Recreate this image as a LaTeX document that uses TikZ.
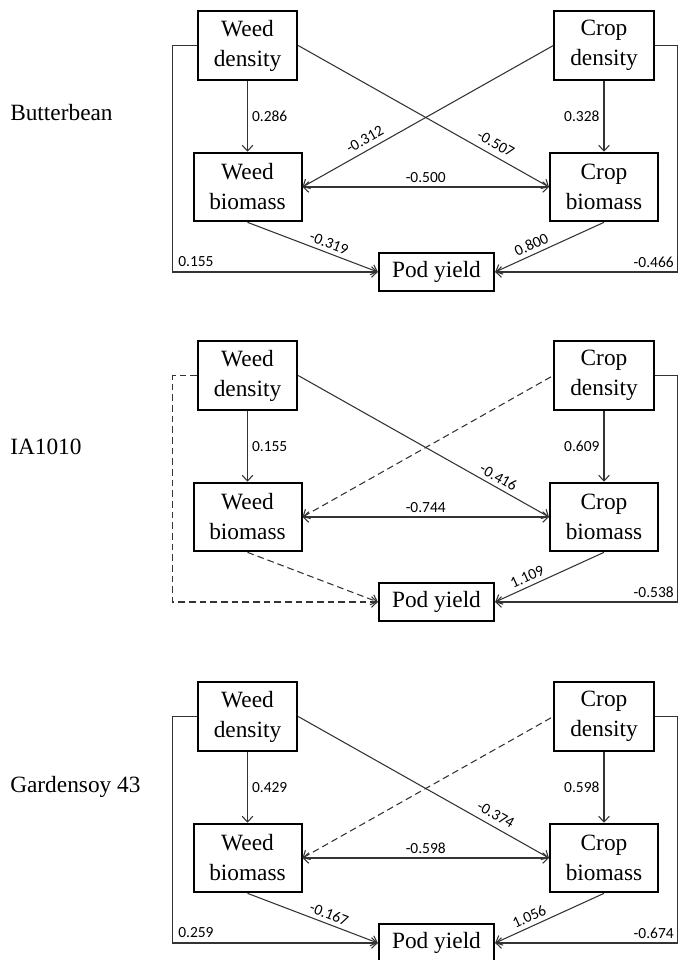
\documentclass[tikz,border=0pt]{standalone}
\usepackage{fontspec}
\setmainfont{Liberation Serif}
\newfontfamily\numfont{Carlito}
\usetikzlibrary{arrows.meta}
\tikzset{
  boxbase/.style={draw=black, line width=1.5pt, align=center, inner sep=0pt,
    font=\fontsize{17.5}{22.5}\selectfont},
  dbox/.style={boxbase, minimum width=74.5pt, minimum height=52pt},
  bbox/.style={boxbase, minimum width=81pt, minimum height=51.5pt},
  pbox/.style={boxbase, minimum width=86.5pt, minimum height=29pt},
  ttl/.style={anchor=west, inner sep=0pt, font=\fontsize{17.5}{20}\selectfont},
  num/.style={font=\numfont\fontsize{11.6}{13}\selectfont, inner sep=3pt},
  conn/.style={draw=black!80, line width=0.8pt},
  arr/.style={conn, -{Straight Barb[length=4.2pt,width=8pt]}},
  arrback/.style={conn, {Straight Barb[length=4.2pt,width=8pt]}-},
  dbl/.style={conn, {Straight Barb[length=4.2pt,width=8pt]}-{Straight Barb[length=4.2pt,width=8pt]}},
  dsh/.style={dash pattern=on 5pt off 3pt},
}
\begin{document}
\begin{tikzpicture}[x=0.75pt,y=-0.75pt]
\useasboundingbox (0,0) rectangle (678,960);

% ---------------- Panel 1: Butterbean ----------------
\node[ttl] (T1) at (10,113) {Butterbean};
\node[dbox] (WD1) at (247.5,45.5) {Weed\\density};
\node[dbox] (CD1) at (604,45.5) {Crop\\density};
\node[bbox] (WB1) at (247.5,187) {Weed\\biomass};
\node[bbox] (CB1) at (604,187) {Crop\\biomass};
\node[pbox] (PY1) at (436.5,272) {Pod yield};
\draw[arr] (WD1.south) -- (WB1.north) node[midway, right, num] (a1) {0.286};
\draw[arr] (CD1.south) -- (CB1.north) node[midway, left, num] (b1) {0.328};
\draw[arr] (WD1.east) -- (CB1.west) node[pos=0.765, above=1.5pt, sloped, num] (c1) {-0.507};
\draw[arrback] (WB1.east) -- (CD1.west) node[pos=0.27, above=1pt, sloped, num] (d1) {-0.312};
\draw[dbl] (WB1.east) -- (CB1.west) node[midway, above, num] (e1) {-0.500};
\draw[arr] (WB1.south) -- (PY1.west) node[pos=0.6, above, sloped, num] (f1) {-0.319};
\draw[arrback] (PY1.east) -- (CB1.south) node[pos=0.37, above, sloped, num] (g1) {0.800};
\draw[arr] (WD1.west) -- ++(-24,0) |- (PY1.west);
\draw[arr] (CD1.east) -- ++(23,0) |- (PY1.east);
\node[num, anchor=west] (h1) at (174,262) {0.155};
\node[num, anchor=east] (i1) at (678,262) {-0.466};

% ---------------- Panel 2: IA1010 ----------------
\node[ttl] (T2) at (10,447) {IA1010};
\node[dbox] (WD2) at (247.5,375.5) {Weed\\density};
\node[dbox] (CD2) at (604,375.5) {Crop\\density};
\node[bbox] (WB2) at (247.5,517) {Weed\\biomass};
\node[bbox] (CB2) at (604,517) {Crop\\biomass};
\node[pbox] (PY2) at (436.5,602) {Pod yield};
\draw[arr] (WD2.south) -- (WB2.north) node[midway, right, num] (a2) {0.155};
\draw[arr] (CD2.south) -- (CB2.north) node[midway, left, num] (b2) {0.609};
\draw[arr] (WD2.east) -- (CB2.west) node[pos=0.78, above, sloped, num] (c2) {-0.416};
\draw[arrback, dsh] (WB2.east) -- (CD2.west);
\draw[dbl] (WB2.east) -- (CB2.west) node[midway, above, num] (e2) {-0.744};
\draw[arr, dsh] (WB2.south) -- (PY2.west);
\draw[arrback] (PY2.east) -- (CB2.south) node[pos=0.33, above, sloped, num] (g2) {1.109};
\draw[arr, dsh] (WD2.west) -- ++(-24,0) |- (PY2.west);
\draw[arr] (CD2.east) -- ++(23,0) |- (PY2.east);
\node[num, anchor=east] (i2) at (678,592) {-0.538};

% ---------------- Panel 3: Gardensoy 43 ----------------
\node[ttl] (T3) at (10,787) {Gardensoy 43};
\node[dbox] (WD3) at (247.5,716.5) {Weed\\density};
\node[dbox] (CD3) at (604,716.5) {Crop\\density};
\node[bbox] (WB3) at (247.5,858) {Weed\\biomass};
\node[bbox] (CB3) at (604,858) {Crop\\biomass};
\node[pbox] (PY3) at (436.5,943) {Pod yield};
\draw[arr] (WD3.south) -- (WB3.north) node[midway, right, num] (a3) {0.429};
\draw[arr] (CD3.south) -- (CB3.north) node[midway, left, num] (b3) {0.598};
\draw[arr] (WD3.east) -- (CB3.west) node[pos=0.765, above=1.5pt, sloped, num] (c3) {-0.374};
\draw[arrback, dsh] (WB3.east) -- (CD3.west);
\draw[dbl] (WB3.east) -- (CB3.west) node[midway, above, num] (e3) {-0.598};
\draw[arr] (WB3.south) -- (PY3.west) node[pos=0.6, above, sloped, num] (f3) {-0.167};
\draw[arrback] (PY3.east) -- (CB3.south) node[pos=0.35, above, sloped, num] (g3) {1.056};
\draw[arr] (WD3.west) -- ++(-24,0) |- (PY3.west);
\draw[arr] (CD3.east) -- ++(23,0) |- (PY3.east);
\node[num, anchor=west] (h3) at (174,933) {0.259};
\node[num, anchor=east] (i3) at (678,933) {-0.674};
\end{tikzpicture}
\end{document}
